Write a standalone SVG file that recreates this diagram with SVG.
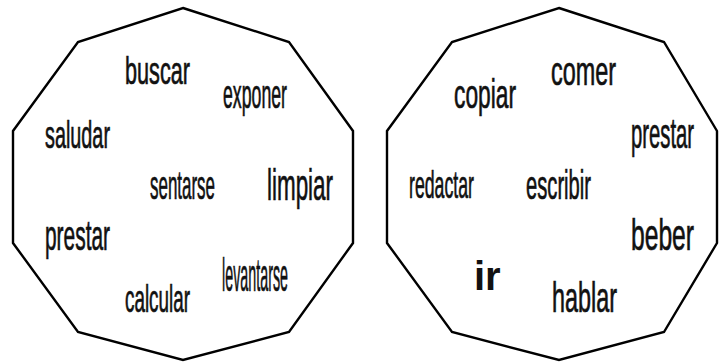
<svg xmlns="http://www.w3.org/2000/svg" width="719" height="362" viewBox="0 0 719 362">
<style>
.shape{fill:#fff;stroke:#000;stroke-width:2.4;stroke-linejoin:miter}
text{font-family:"Liberation Sans",Arial,sans-serif;fill:#111;stroke:#111;stroke-width:0.7}
.b{font-weight:bold;stroke-width:0}
</style>
<rect width="719" height="362" fill="#fff"/>
<g id="decagon-left">
<polygon class="shape" points="183,8 289,42 353,131 353,243 289,332 183,360 78,332 13,243 13,131 78,42"/>
<text x="125" y="84" font-size="39" textLength="65" lengthAdjust="spacingAndGlyphs">buscar</text>
<text x="223" y="108" font-size="40" textLength="64" lengthAdjust="spacingAndGlyphs">exponer</text>
<text x="45" y="148" font-size="39" textLength="65" lengthAdjust="spacingAndGlyphs">saludar</text>
<text x="150" y="199" font-size="40" textLength="65" lengthAdjust="spacingAndGlyphs">sentarse</text>
<text x="267" y="200" font-size="44" textLength="66" lengthAdjust="spacingAndGlyphs">limpiar</text>
<text x="45" y="250" font-size="42" textLength="65" lengthAdjust="spacingAndGlyphs">prestar</text>
<text x="222" y="291" font-size="46" textLength="66" lengthAdjust="spacingAndGlyphs">levantarse</text>
<text x="125" y="312" font-size="39" textLength="65" lengthAdjust="spacingAndGlyphs">calcular</text>
</g>
<g id="decagon-right">
<polygon class="shape" points="559,8 664,42 717,131 717,243 664,332 559,360 452,332 387,243 387,131 452,42"/>
<text x="454" y="108" font-size="40" textLength="62" lengthAdjust="spacingAndGlyphs">copiar</text>
<text x="551" y="85" font-size="40" textLength="65" lengthAdjust="spacingAndGlyphs">comer</text>
<text x="631" y="148" font-size="42" textLength="63" lengthAdjust="spacingAndGlyphs">prestar</text>
<text x="409" y="198" font-size="38" textLength="65" lengthAdjust="spacingAndGlyphs">redactar</text>
<text x="526" y="199" font-size="40" textLength="65" lengthAdjust="spacingAndGlyphs">escribir</text>
<text x="631" y="250" font-size="45" textLength="63" lengthAdjust="spacingAndGlyphs">beber</text>
<text class="b" x="474" y="290" font-size="40">ir</text>
<text x="552" y="312" font-size="42" textLength="65" lengthAdjust="spacingAndGlyphs">hablar</text>
</g>
</svg>
